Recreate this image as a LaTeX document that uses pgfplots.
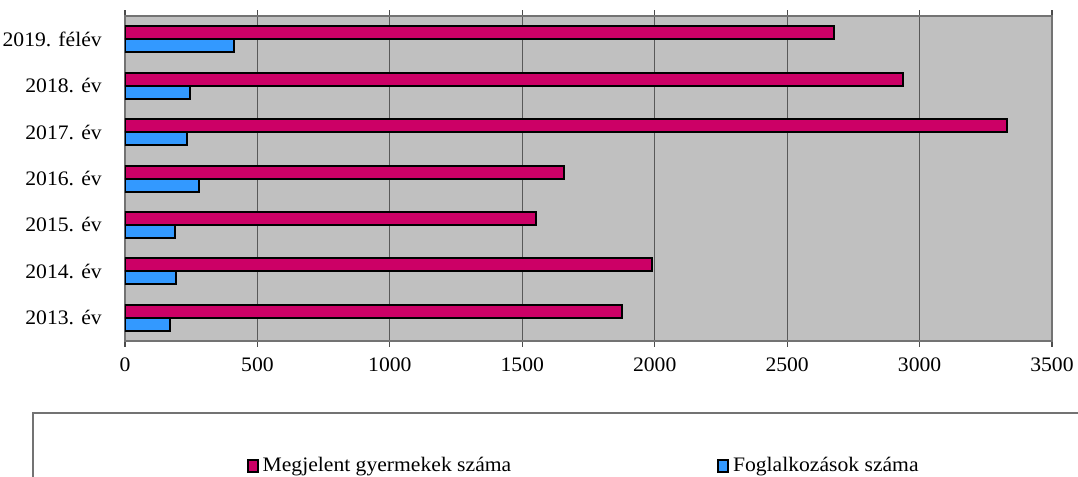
\documentclass[border=0pt]{standalone}
\usepackage{fontspec}
\setmainfont{Liberation Serif}[FakeStretch=1.05]
\usepackage{pgfplots}
\pgfplotsset{compat=1.18}

\definecolor{magentabar}{HTML}{CC0066}
\definecolor{bluebar}{HTML}{3399FF}
\definecolor{plotbg}{HTML}{C0C0C0}

\begin{document}
\fontsize{10.3pt}{12pt}\selectfont
\begin{tikzpicture}
\begin{axis}[
    at={(0pt,0pt)}, anchor=south west,
    scale only axis,
    width=463.5pt, height=162.5pt,
    xbar,
    bar width=6.5pt,
    xmin=0, xmax=3500,
    ymin=-0.5, ymax=6.5,
    xtick={0,500,...,3500},
    ytick={0,...,6},
    yticklabels={2013. év,2014. év,2015. év,2016. év,2017. év,2018. év,2019. félév},
    ytick style={draw=none},
    extra y ticks={-0.5,0.5,...,6.5},
    extra y tick labels={},
    extra y tick style={tick style={draw=black!70, line width=0.6pt}},
    major tick length=3pt,
    xtick style={draw=black!70, line width=0.6pt},
    tick align=outside,
    xmajorgrids,
    major grid style={black!65, line width=0.5pt},
    axis background/.style={fill=plotbg},
    axis line style={black!55, line width=0.7pt},
    /pgf/number format/assume math mode=true,
    /pgf/number format/1000 sep={},
    xticklabel style={yshift=-2pt},
    yticklabel style={xshift=-5pt},
    legend columns=2,
    legend style={draw=none, fill=none, at={(0.131,-0.385)}, anchor=west,
        inner sep=0pt, /tikz/column 2/.style={column sep=101pt}},
    legend image code/.code={\draw[#1, line width=0.9pt] (0pt,-2.9pt) rectangle (5pt,2.9pt);},
]
\addplot[fill=magentabar, draw=black, line width=1pt, bar shift=3.25pt] coordinates {
    (1878,0) (1989,1) (1553,2) (1656,3) (3330,4) (2938,5) (2676,6)
};
\addplot[fill=bluebar, draw=black, line width=1pt, bar shift=-3.25pt] coordinates {
    (169,0) (194,1) (189,2) (278,3) (234,4) (247,5) (411,6)
};
\legend{Megjelent gyermekek száma, Foglalkozások száma}
\end{axis}
\draw[black!55, line width=0.8pt] (-46pt,-120pt) |- (700pt,-36pt);
\pgfresetboundingbox
\path (-62.5pt,-68pt) rectangle (476.5pt,170.5pt);
\end{tikzpicture}
\end{document}
